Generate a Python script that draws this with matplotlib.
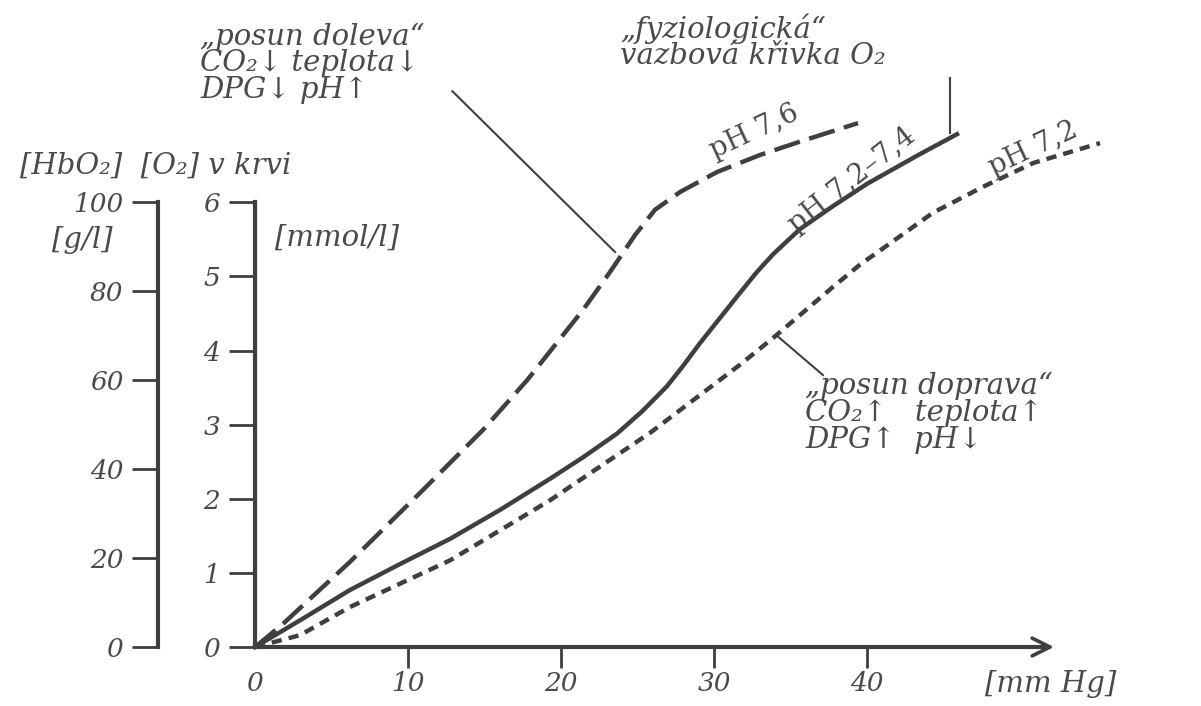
import matplotlib
matplotlib.use('Agg')
import matplotlib.pyplot as plt

plt.rcParams['font.family'] = ['DejaVu Serif', 'DejaVu Sans']
plt.rcParams['font.style'] = 'italic'

INK = '#3f3f3f'
TXT = '#4a4a4a'

# pO2 [mm Hg] a [O2] v krvi [mmol/l]
po2_76 = [0, 1.76, 6.21, 10.98, 14.90, 17.78, 21.44, 23.20, 24.84, 26.14, 27.78, 30.20, 33.01, 35.62, 39.41]
o2_76 = [0, 0.30, 1.15, 2.12, 2.93, 3.60, 4.55, 5.06, 5.56, 5.90, 6.14, 6.41, 6.64, 6.82, 7.07]

po2_74 = [0, 2.94, 6.21, 9.48, 12.75, 16.01, 19.28, 21.44, 23.66, 25.30, 26.93, 28.00, 29.08,
          31.70, 32.80, 33.86, 35.62, 37.78, 40.0, 43.27, 45.88]
o2_74 = [0, 0.36, 0.77, 1.12, 1.46, 1.85, 2.27, 2.56, 2.88, 3.18, 3.52, 3.80, 4.10,
         4.78, 5.06, 5.30, 5.64, 5.95, 6.25, 6.63, 6.92]

po2_72 = [0, 2.94, 6.21, 12.75, 19.28, 25.82, 29.08, 31.70, 33.86, 35.62, 37.78, 39.54,
          41.05, 44.31, 47.58, 50.85, 55.23]
o2_72 = [0, 0.16, 0.54, 1.17, 1.98, 2.89, 3.40, 3.81, 4.17, 4.48, 4.86, 5.16,
         5.38, 5.86, 6.21, 6.53, 6.80]

x_ticks = [0, 10, 20, 30, 40]
o2_ticks = [0, 1, 2, 3, 4, 5, 6]
hb_ticks = [0, 20, 40, 60, 80, 100]

fig = plt.figure(figsize=(12.01, 7.06), dpi=100)
ax = fig.add_axes([0, 0, 1, 1])
ax.set_xlim(-16.67, 61.83)
ax.set_ylim(-0.796, 8.731)

# krivky
ax.plot(po2_76, o2_76, color=INK, lw=3.2, dashes=(6, 2.2), solid_capstyle='butt')
ax.plot(po2_74, o2_74, color=INK, lw=3.2)
ax.plot(po2_72, o2_72, color=INK, lw=3.2, dashes=(2.3, 1.6))

# osy
for s in ['top', 'right']:
    ax.spines[s].set_visible(False)
ax.spines['left'].set_position(('data', 0))
ax.spines['bottom'].set_position(('data', 0))
ax.spines['left'].set_bounds(0, 6)
ax.spines['bottom'].set_bounds(0, 51.5)
for s in ['left', 'bottom']:
    ax.spines[s].set_linewidth(3)
    ax.spines[s].set_color(INK)
ax.annotate('', xy=(52.4, 0), xytext=(50.5, 0),
            arrowprops=dict(arrowstyle='->', lw=2.6, color=INK, mutation_scale=32))

ax.set_xticks(x_ticks)
ax.set_yticks(o2_ticks)
ax.tick_params(direction='out', length=19, width=2, colors=INK,
               labelsize=19, labelcolor=TXT)
ax.tick_params(axis='x', length=15, pad=2)
ax.tick_params(axis='y', pad=6)
ax.xaxis.get_major_ticks()[0].tick1line.set_visible(False)

# osa HbO2 [g/l]
sec = ax.secondary_yaxis(0.1316, functions=(lambda y: y * 100 / 6, lambda v: v * 6 / 100))
sec.set_yticks(hb_ticks)
sec.spines['left'].set_bounds(0, 100)
sec.spines['left'].set_linewidth(3)
sec.spines['left'].set_color(INK)
sec.tick_params(direction='out', length=19, width=2, colors=INK,
                labelsize=19, labelcolor=TXT, pad=6)

fs = 21
ax.text(-15.36, 6.50, '[HbO₂]  [O₂] v krvi', fontsize=fs, color=TXT, va='center')
ax.text(-13.3, 5.49, '[g/l]', fontsize=fs, color=TXT, va='center')
ax.text(1.31, 5.52, '[mmol/l]', fontsize=fs, color=TXT, va='center')
ax.text(47.7, -0.50, '[mm Hg]', fontsize=fs, color=TXT, va='center')

ax.text(-3.6, 8.24, '„posun doleva“', fontsize=fs, color=TXT, va='center')
ax.text(-3.6, 7.88, 'CO₂↓ teplota↓', fontsize=fs, color=TXT, va='center')
ax.text(-3.6, 7.52, 'DPG↓ pH↑', fontsize=fs, color=TXT, va='center')
ax.plot([12.9, 23.53], [7.5, 5.33], color=INK, lw=1.5)

ax.text(23.86, 8.34, '„fyziologická“', fontsize=fs, color=TXT, va='center')
ax.text(23.86, 7.98, 'vazbová křivka O₂', fontsize=fs, color=TXT, va='center')
ax.plot([45.42, 45.42], [7.68, 6.94], color=INK, lw=1.5)

ax.text(35.95, 3.52, '„posun doprava“', fontsize=fs, color=TXT, va='center')
ax.text(35.95, 3.16, 'CO₂↑   teplota↑', fontsize=fs, color=TXT, va='center')
ax.text(35.95, 2.80, 'DPG↑  pH↓', fontsize=fs, color=TXT, va='center')
ax.plot([34.12, 37.12], [4.20, 3.67], color=INK, lw=1.5)

ax.text(32.6, 6.95, 'pH 7,6', fontsize=20, style='normal', color=TXT,
        rotation=25, ha='center', va='center')
ax.text(39.0, 6.30, 'pH 7,2–7,4', fontsize=20, style='normal', color=TXT,
        rotation=38, ha='center', va='center')
ax.text(50.9, 6.72, 'pH 7,2', fontsize=20, style='normal', color=TXT,
        rotation=25, ha='center', va='center')

fig.savefig('out.png', dpi=100)
